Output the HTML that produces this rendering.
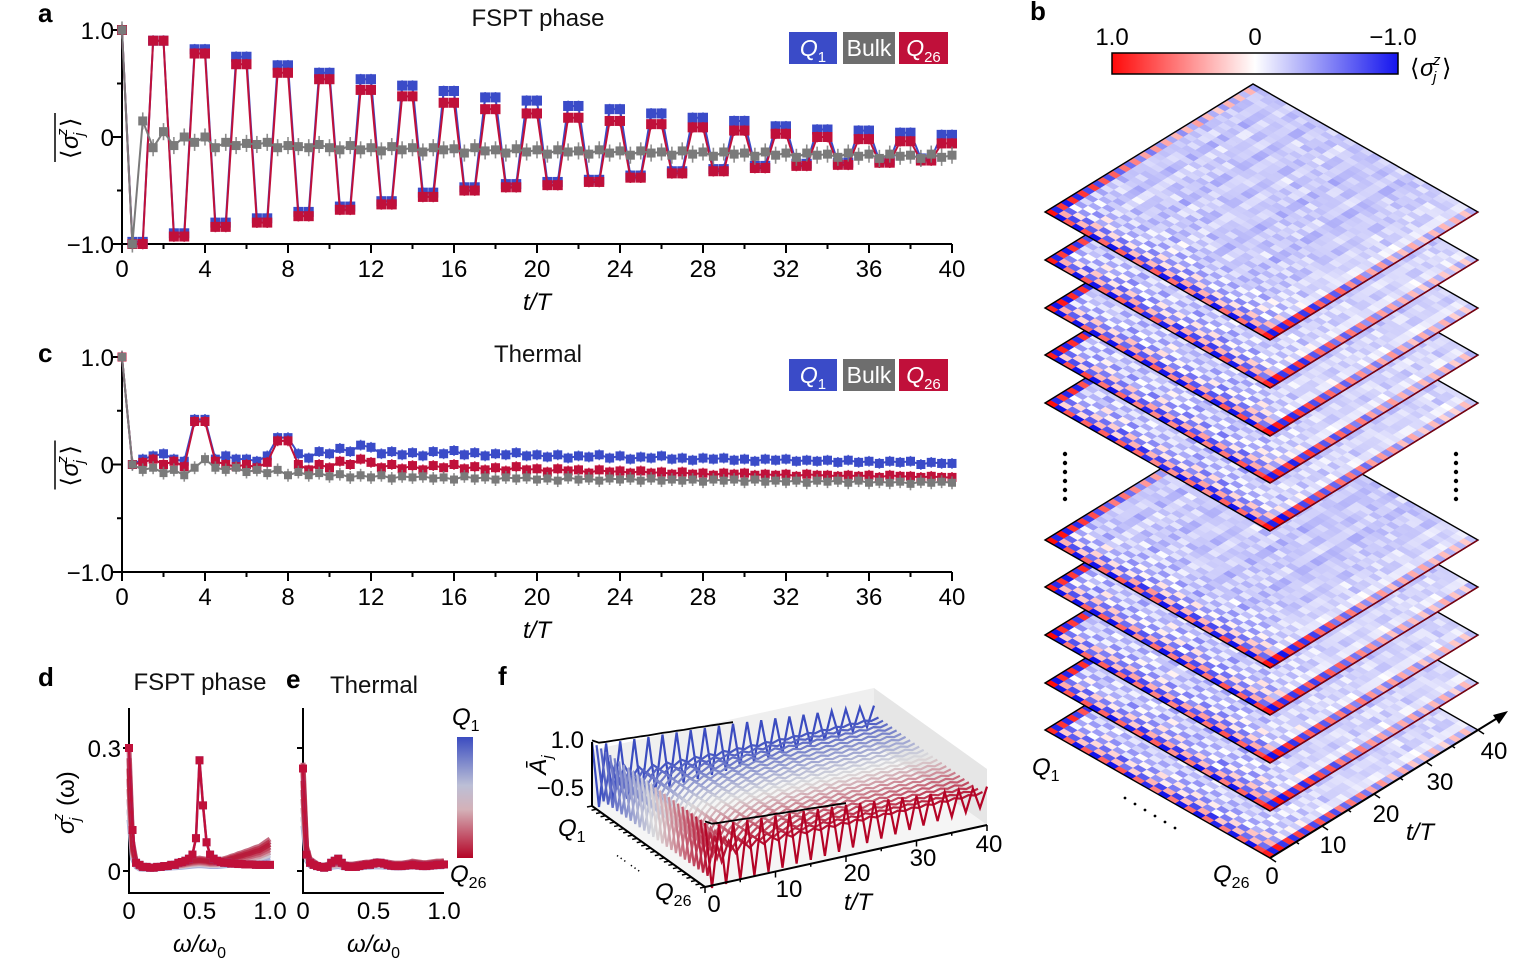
<!DOCTYPE html>
<html><head><meta charset="utf-8"><style>
html,body{margin:0;padding:0;background:#fff;}
svg{display:block;font-family:"Liberation Sans",Arial,sans-serif;}
</style></head><body>
<svg id="fig" width="1536" height="966" viewBox="0 0 1536 966" xmlns="http://www.w3.org/2000/svg">
<rect width="1536" height="966" fill="#fff"/>
<g font-size="26" font-weight="bold" fill="#000">
<text x="38" y="22">a</text>
<text x="1030" y="20">b</text>
<text x="38" y="362">c</text>
<text x="38" y="686">d</text>
<text x="286" y="688">e</text>
<text x="498" y="685">f</text>
</g>
<g font-size="24" fill="#111">
<text x="538" y="26" text-anchor="middle">FSPT phase</text>
<text x="538" y="362" text-anchor="middle">Thermal</text>
<text x="200" y="690" text-anchor="middle">FSPT phase</text>
<text x="374" y="693" text-anchor="middle">Thermal</text>
</g>
<g id="pa"></g><g id="pc"></g><g id="pd"></g><g id="pf"></g><g id="pb"></g>
</svg>
<script>
// ---------- DATA ----------
const aQ1Up   = [0.9,0.82,0.75,0.67,0.6,0.54,0.48,0.43,0.37,0.34,0.29,0.26,0.22,0.18,0.15,0.1,0.07,0.06,0.04,0.02];
const aQ26Up  = [0.9,0.78,0.68,0.6,0.54,0.44,0.38,0.32,0.26,0.22,0.18,0.15,0.12,0.09,0.06,0.03,0.0,-0.02,-0.04,-0.06];
const aQ1Down = [-0.98,-0.9,-0.8,-0.76,-0.7,-0.65,-0.6,-0.52,-0.47,-0.44,-0.42,-0.4,-0.36,-0.32,-0.3,-0.27,-0.25,-0.24,-0.22,-0.2];
const aQ26Down= [-1.0,-0.93,-0.84,-0.8,-0.74,-0.68,-0.63,-0.56,-0.5,-0.47,-0.45,-0.42,-0.38,-0.34,-0.32,-0.29,-0.27,-0.26,-0.24,-0.22];
const aBulk = [1,-1,0.15,-0.1,0.05,-0.08,0.0,-0.05,0.0,-0.1,-0.05,-0.08,-0.06,-0.07,-0.05,-0.1,-0.08,-0.09,-0.1,-0.07,-0.1,-0.12,-0.08,-0.12,-0.1,-0.13,-0.09,-0.12,-0.1,-0.14,-0.1,-0.12,-0.11,-0.15,-0.1,-0.13,-0.12,-0.15,-0.11,-0.14,-0.12,-0.16,-0.12,-0.14,-0.13,-0.16,-0.12,-0.15,-0.13,-0.17,-0.13,-0.15,-0.14,-0.17,-0.13,-0.16,-0.14,-0.18,-0.14,-0.16,-0.15,-0.18,-0.14,-0.17,-0.15,-0.19,-0.15,-0.17,-0.16,-0.19,-0.15,-0.18,-0.16,-0.2,-0.16,-0.18,-0.17,-0.2,-0.16,-0.19,-0.17];
const cQ1 = [1,0.0,0.05,0.08,0.1,0.05,0.03,0.42,0.42,0.05,0.08,0.05,0.05,0.03,0.08,0.25,0.25,0.1,0.06,0.12,0.1,0.15,0.12,0.18,0.16,0.1,0.12,0.09,0.11,0.08,0.12,0.1,0.13,0.09,0.11,0.08,0.1,0.09,0.11,0.08,0.09,0.07,0.09,0.06,0.08,0.07,0.09,0.06,0.08,0.05,0.07,0.06,0.08,0.05,0.06,0.04,0.06,0.05,0.06,0.04,0.05,0.03,0.05,0.04,0.05,0.03,0.04,0.03,0.04,0.02,0.04,0.02,0.03,0.01,0.03,0.02,0.03,0.0,0.02,0.01,0.01];
const cQ26 = [1,0.0,0.02,0.05,0.0,0.03,-0.02,0.4,0.4,0.03,0.0,-0.02,0.0,-0.03,0.02,0.22,0.22,0.0,-0.05,0.0,-0.03,0.03,0.0,0.05,0.02,-0.03,0.0,-0.04,-0.01,-0.05,-0.01,-0.03,0.0,-0.04,-0.02,-0.05,-0.03,-0.06,-0.02,-0.05,-0.04,-0.07,-0.04,-0.06,-0.05,-0.08,-0.05,-0.07,-0.06,-0.08,-0.06,-0.08,-0.07,-0.09,-0.07,-0.09,-0.08,-0.1,-0.08,-0.09,-0.08,-0.1,-0.09,-0.1,-0.09,-0.11,-0.09,-0.1,-0.1,-0.11,-0.1,-0.11,-0.1,-0.12,-0.1,-0.11,-0.11,-0.12,-0.11,-0.12,-0.12];
const cBulk = [1,0.0,-0.05,-0.03,-0.08,-0.05,-0.1,-0.03,0.05,-0.03,-0.05,-0.03,-0.07,-0.05,-0.08,-0.05,-0.1,-0.07,-0.1,-0.08,-0.11,-0.09,-0.12,-0.1,-0.12,-0.1,-0.13,-0.11,-0.12,-0.11,-0.13,-0.12,-0.14,-0.11,-0.13,-0.12,-0.14,-0.12,-0.13,-0.12,-0.14,-0.13,-0.15,-0.12,-0.14,-0.13,-0.15,-0.13,-0.14,-0.13,-0.15,-0.13,-0.15,-0.14,-0.15,-0.14,-0.16,-0.14,-0.15,-0.14,-0.16,-0.14,-0.16,-0.15,-0.16,-0.15,-0.17,-0.15,-0.16,-0.15,-0.17,-0.15,-0.17,-0.16,-0.17,-0.16,-0.18,-0.16,-0.17,-0.16,-0.17];
const xTicks = [0,4,8,12,16,20,24,28,32,36,40];
const yTicks = [1.0,0,-1.0];
const yTickLabels = ["1.0","0","\u22121.0"];
const dEdge = [0.3,0.1,0.02,0.015,0.01,0.01,0.008,0.008,0.01,0.01,0.012,0.012,0.015,0.015,0.02,0.022,0.025,0.03,0.04,0.08,0.27,0.16,0.07,0.04,0.03,0.025,0.022,0.02,0.02,0.018,0.018,0.017,0.017,0.016,0.016,0.016,0.015,0.015,0.015,0.015,0.015];
const dBulk = [0.25,0.06,0.02,0.01,0.008,0.008,0.008,0.01,0.01,0.012,0.012,0.014,0.015,0.016,0.017,0.018,0.02,0.022,0.024,0.025,0.026,0.025,0.024,0.022,0.022,0.022,0.023,0.025,0.027,0.03,0.032,0.035,0.037,0.04,0.042,0.045,0.048,0.05,0.055,0.06,0.065];
const eEdge = [0.25,0.04,0.02,0.015,0.012,0.01,0.008,0.01,0.02,0.025,0.03,0.02,0.012,0.01,0.01,0.01,0.012,0.014,0.016,0.015,0.018,0.02,0.02,0.018,0.015,0.013,0.012,0.012,0.012,0.013,0.014,0.015,0.014,0.013,0.012,0.012,0.013,0.014,0.015,0.015,0.016];
const eBulk = [0.22,0.05,0.025,0.02,0.015,0.012,0.012,0.014,0.018,0.02,0.022,0.018,0.015,0.014,0.014,0.015,0.016,0.017,0.018,0.018,0.02,0.021,0.02,0.019,0.018,0.017,0.016,0.016,0.016,0.017,0.018,0.02,0.019,0.018,0.017,0.017,0.018,0.019,0.02,0.02,0.021];
const siteScale = [1,0.9,0.6,1.1,0.7,0.9,0.5,1.0,0.8,0.6,1.2,0.7,0.9,0.6,1.0,0.8,1.1,0.7,0.9,1.0,0.8,1.2,0.9,1.1,1.0,1];
const fEdge = [1,0.98,0.96,0.95,0.93,0.92,0.9,0.89,0.87,0.86,0.85,0.83,0.82,0.8,0.79,0.78,0.76,0.75,0.73,0.72,0.7,0.68,0.66,0.64,0.62,0.6,0.58,0.56,0.54,0.52,0.5,0.48,0.46,0.44,0.42,0.4,0.38,0.36,0.34,0.32,0.3];
const fBulk = [1,0.7,0.5,0.35,0.25,0.18,0.14,0.12,0.1,0.09,0.08,0.07,0.07,0.06,0.06,0.05,0.05,0.05,0.05,0.04,0.04,0.04,0.04,0.04,0.04,0.04,0.03,0.03,0.03,0.03,0.03,0.03,0.03,0.03,0.03,0.03,0.03,0.03,0.03,0.03,0.03];
const siteMean = [-0.05,-0.25,-0.2,-0.3,-0.15,-0.25,-0.2,-0.3,-0.18,-0.22,-0.28,-0.15,-0.25,-0.2,-0.3,-0.2,-0.25,-0.18,-0.3,-0.22,-0.2,-0.25,-0.15,-0.2,-0.1,-0.05];
const edgeOsc = [0.95,0.93,0.9,0.88,0.85,0.83,0.8,0.78,0.75,0.72,0.7,0.68,0.65,0.62,0.6,0.58,0.55,0.52,0.5,0.48,0.46,0.44,0.42,0.4,0.38,0.37,0.36,0.35,0.34,0.33,0.32,0.31,0.3,0.3,0.29,0.28,0.28,0.27,0.27,0.26];
const bulkOsc = [0.8,0.5,0.35,0.25,0.18,0.14,0.11,0.09,0.08,0.07,0.06,0.05,0.05,0.04,0.04,0.04,0.03,0.03,0.03,0.03,0.03,0.03,0.03,0.03,0.03,0.03,0.02,0.02,0.02,0.02,0.02,0.02,0.02,0.02,0.02,0.02,0.02,0.02,0.02,0.02];
const noise = [0.12,-0.2,0.05,0.25,-0.1,0.0,-0.28,0.18,0.08,-0.15,0.3,-0.05,0.1,-0.22,0.2,-0.08,0.02,-0.3,0.15,0.06,-0.12,0.22,-0.18,0.0,0.28,-0.25,0.1,-0.02,0.18,-0.1,0.04,-0.2,0.26,-0.06,0.12,-0.16,0.08];
const layerY = [212,260,308,355,403,540,587,635,683,730];

// ---------- helpers ----------
const NS='http://www.w3.org/2000/svg';
function mk(tag,attrs,parent){const e=document.createElementNS(NS,tag);for(const k in attrs)e.setAttribute(k,attrs[k]);parent.appendChild(e);return e;}
const BLUE='#3a4bc8', RED='#c0103a', GRAY='#7a7a7a';
function lerp(a,b,f){return a+(b-a)*f;}
function hex(c){return [parseInt(c.slice(1,3),16),parseInt(c.slice(3,5),16),parseInt(c.slice(5,7),16)];}
function siteColor(j){
  const f=j/25; const A=hex('#3b4cc0'),M=hex('#dcdcdc'),B=hex('#b40426');
  let c; if(f<0.5){c=A.map((v,i)=>lerp(v,M[i],f*2));} else {c=M.map((v,i)=>lerp(v,B[i],(f-0.5)*2));}
  return 'rgb('+c.map(Math.round).join(',')+')';
}
function heatColor(v){v=Math.max(-1,Math.min(1,v));
  if(v>=0){const g=Math.round(255*(1-v));return 'rgb(255,'+g+','+g+')';}
  const a=-v;return 'rgb('+Math.round(255-235*a)+','+Math.round(255-235*a)+','+Math.round(255-20*a)+')';}
function sigmaLabel(parent,x,y,rot,name){
  const g=mk('g',{transform:`translate(${x} ${y})`+(rot?' rotate(-90)':'')},parent);
  
  
  const t=mk('text',{x:-22,y:0,'font-size':24},g);t.textContent='⟨';
  const s=mk('text',{x:-12,y:0,'font-size':24,'font-style':'italic'},g);s.textContent='σ';
  const sub=mk('text',{x:1,y:6,'font-size':15,'font-style':'italic'},g);sub.textContent='j';
  const sup=mk('text',{x:1,y:-11,'font-size':15,'font-style':'italic'},g);sup.textContent='z';
  const c=mk('text',{x:10,y:0,'font-size':24},g);c.textContent='⟩';
  return g;
}

// ---------- time-series panels a & c ----------
function timePanel(gid, y0, yScale, series, nameP){
  const g=document.getElementById(gid);
  const x=t=>122+t*20.75, y=v=>y0-v*yScale;
  const ax=mk('path',{d:`M122 ${y(1)}V${y(-1)}H952`,stroke:'#000','stroke-width':2,fill:'none'},g);
  
  
  for(let t=0;t<=40;t+=2){const tk=mk('line',{x1:x(t),x2:x(t),y1:y(-1),y2:y(-1)+(t%4?5:9),stroke:'#000','stroke-width':2},g);
    
    }
  xTicks.forEach(t=>{const tx=mk('text',{x:x(t),y:y(-1)+33,'text-anchor':'middle','font-size':24},g);tx.textContent=String(t);
    
    });
  [1,0.5,0,-0.5,-1].forEach(v=>{const tk=mk('line',{x1:122,x2:122-(v===0.5||v===-0.5?5:9),y1:y(v),y2:y(v),stroke:'#000','stroke-width':2},g);
    
    });
  yTicks.forEach((v,i)=>{const tx=mk('text',{x:114,y:y(v)+9,'text-anchor':'end','font-size':24},g);tx.textContent=yTickLabels[i];
    
    });
  const xl=mk('text',{x:537,y:y(-1)+66,'text-anchor':'middle','font-size':24,'font-style':'italic'},g);xl.textContent='t/T';
  
  
  sigmaLabel(g,78,y0,true,nameP+'-y-axis-title');
  mk('line',{x1:55,x2:55,y1:y0-24,y2:y0+25,stroke:'#000','stroke-width':1.5},g);
  series.forEach(s=>{
    const sg=mk('g',{},g);
    
    
    mk('polyline',{points:s.pts.map(p=>x(p.t)+','+y(p.v)).join(' '),fill:'none',stroke:s.color,'stroke-width':2},sg);
    s.pts.forEach(p=>{
      mk('line',{x1:x(p.t),x2:x(p.t),y1:y(p.v)-s.err*yScale,y2:y(p.v)+s.err*yScale,stroke:s.color,'stroke-width':1.6,opacity:0.85},sg);
      const r=mk('rect',{x:x(p.t)-s.sz/2,y:y(p.v)-s.sz/2,width:s.sz,height:s.sz,fill:s.color},sg);
      
      
    });
  });
  const lg=mk('g',{},g);
  
  
  const ly=y(1)+2;
  [[789,48,BLUE,'Q','1'],[843,52,'#6e6e6e','Bulk',''],[899,49,RED,'Q','26']].forEach(L=>{
    const b=mk('rect',{x:L[0],y:ly,width:L[1],height:32,fill:L[2]},lg);
    
    
    const t=mk('text',{x:L[0]+L[1]/2,y:ly+24,'text-anchor':'middle','font-size':23,fill:'#fff'},lg);
    if(L[4]) t.innerHTML='<tspan font-style="italic">'+L[3]+'</tspan><tspan font-size="15" dy="6">'+L[4]+'</tspan>'; else t.textContent=L[3];
  });
}
function pairPts(up,down,first){const p=[{t:0,v:first}];
  up.forEach((v,k)=>{p.push({t:2*(k+1)-0.5,v});p.push({t:2*(k+1),v});});
  down.forEach((v,k)=>{p.push({t:2*k+0.5,v});p.push({t:2*k+1,v});});
  return p.sort((a,b)=>a.t-b.t);}
const idxPts=arr=>arr.map((v,i)=>({t:i*0.5,v}));
timePanel('pa',137,107,[
  {name:'q1',pts:pairPts(aQ1Up,aQ1Down,1),color:BLUE,err:0.05,sz:10},
  {name:'q26',pts:pairPts(aQ26Up,aQ26Down,1),color:RED,err:0.05,sz:10},
  {name:'bulk',pts:idxPts(aBulk),color:GRAY,err:0.08,sz:9}],'panel-a');
timePanel('pc',464.5,107.5,[
  {name:'q1',pts:idxPts(cQ1),color:BLUE,err:0.05,sz:9},
  {name:'q26',pts:idxPts(cQ26),color:RED,err:0.05,sz:9},
  {name:'bulk',pts:idxPts(cBulk),color:GRAY,err:0.06,sz:8}],'panel-c');

// ---------- spectra d & e ----------
function specPanel(x0,edge,bulk,name,withY){
  const g=document.getElementById('pd');
  const x=w=>x0+w*141, y=v=>871-v/0.3*123;
  const ax=mk('path',{d:`M${x0} 708V893H${x0+141}`,stroke:'#000','stroke-width':2,fill:'none'},g);
  
  
  [0.3,0].forEach(v=>mk('line',{x1:x0,x2:x0-6,y1:y(v),y2:y(v),stroke:'#000','stroke-width':2},g));
  [0,0.5,1].forEach((w,i)=>{const t=mk('text',{x:x(w),y:919,'text-anchor':'middle','font-size':24},g);t.textContent=['0','0.5','1.0'][i];
    
    });
  const xl=mk('text',{x:x(0.5),y:952,'text-anchor':'middle','font-size':24,'font-style':'italic'},g);
  xl.innerHTML='ω/ω<tspan font-size="16" dy="6" font-style="normal">0</tspan>';
  
  
  for(let j=1;j<25;j++){
    const pl=mk('polyline',{points:bulk.map((v,i)=>x(i*0.025)+','+y(v*siteScale[j])).join(' '),fill:'none',stroke:siteColor(j),'stroke-width':5,opacity:0.75},g);
    
    
  }
  [0,25].forEach(j=>{
    const c=j?RED:'#5b7be0';
    mk('polyline',{points:edge.map((v,i)=>x(i*0.025)+','+y(v)).join(' '),fill:'none',stroke:c,'stroke-width':2.5},g);
    edge.forEach((v,i)=>{const r=mk('rect',{x:x(i*0.025)-4,y:y(v)-4,width:8,height:8,fill:c},g);
      
      });
  });
  if(withY){
    [0.3,0].forEach((v,i)=>{const t=mk('text',{x:x0-8,y:y(v)+9,'text-anchor':'end','font-size':24},g);t.textContent=['0.3','0'][i];
      
      });
    const yl=mk('g',{transform:'translate(74 800) rotate(-90)'},g);
    
    
    mk('text',{x:-34,y:0,'font-size':24,'font-style':'italic'},yl).textContent='σ';
    mk('text',{x:-21,y:6,'font-size':15,'font-style':'italic'},yl).textContent='j';
    mk('text',{x:-21,y:-11,'font-size':15,'font-style':'italic'},yl).textContent='z';
    mk('text',{x:-6,y:0,'font-size':24},yl).textContent='(ω)';
  }
}
specPanel(129,dEdge,dBulk,'panel-d',true);
specPanel(303,eEdge,eBulk,'panel-e',false);
(function(){const g=document.getElementById('pd');
  const defs=mk('defs',{},g);const lgd=mk('linearGradient',{id:'sitegrad',x1:0,y1:0,x2:0,y2:1},defs);
  for(let j=0;j<=25;j+=5)mk('stop',{offset:j/25,'stop-color':siteColor(j)},lgd);
  const cb=mk('rect',{x:457,y:737,width:16,height:121,fill:'url(#sitegrad)'},g);
  
  
  const t1=mk('text',{x:452,y:725,'font-size':24,'font-style':'italic'},g);t1.innerHTML='Q<tspan font-size="16" dy="6" font-style="normal">1</tspan>';
  const t2=mk('text',{x:450,y:882,'font-size':24,'font-style':'italic'},g);t2.innerHTML='Q<tspan font-size="16" dy="6" font-style="normal">26</tspan>';
})();

// ---------- panel f ----------
(function(){
  const g=document.getElementById('pf');
  const P=(t,j,v)=>[592+j*4.52+t*7.05, 806+j*3.24-t*1.55-(v+1)*32];
  const poly=pts=>pts.map(p=>p[0].toFixed(1)+','+p[1].toFixed(1)).join(' ');
  const back=mk('polygon',{points:poly([P(0,0,-1),P(40,0,-1),P(40,0,0.75),P(0,0,0.75)]),fill:'#efefef'},g);
  
  
  const side=mk('polygon',{points:poly([P(40,0,-1),P(40,25,-1),P(40,25,0.75),P(40,0,0.75)]),fill:'#e6e6e6'},g);
  
  
  mk('polygon',{points:poly([P(0,0,-1),P(40,0,-1),P(40,25,-1),P(0,25,-1)]),fill:'#f5f5f5'},g);
  for(let j=0;j<26;j++){
    const amp=(j===0||j===25)?fEdge:fBulk;
    const pts=amp.map((a,t)=>P(t,j,(t%2?-1:1)*a-(t>0?0.1:0)));
    const pl=mk('polyline',{points:poly(pts),fill:'none',stroke:siteColor(j),'stroke-width':2.2},g);
    
    
  }
  [0,25].forEach(j=>{
    const pts=[];for(let t=0;t<=20;t++)pts.push(P(t,j,fEdge[t]-0.1*(t>0)+0.05));
    mk('polyline',{points:poly(pts),fill:'none',stroke:'#000','stroke-width':1.8},g);
  });
  mk('polyline',{points:poly([P(0,0,1),P(0,0,-1),P(0,25,-1),P(40,25,-1)]),fill:'none',stroke:'#000','stroke-width':2},g);
  for(let j=0;j<=25;j++){const a=P(0,j,-1);mk('line',{x1:a[0],y1:a[1],x2:a[0]-5,y2:a[1]+1,stroke:'#000','stroke-width':1.5},g);}
  for(let t=0;t<=40;t+=5){const a=P(t,25,-1);mk('line',{x1:a[0],y1:a[1],x2:a[0],y2:a[1]+(t%10?3:6),stroke:'#000','stroke-width':1.5},g);}
  [[0,714,912],[10,789,897],[20,857,881],[30,923,866],[40,989,852]].forEach(L=>{
    const t=mk('text',{x:L[1],y:L[2],'text-anchor':'middle','font-size':24},g);t.textContent=String(L[0]);
    
    });
  const tl=mk('text',{x:858,y:910,'text-anchor':'middle','font-size':24,'font-style':'italic'},g);tl.textContent='t/T';
  [[1,'1.0',748],[2,'\u22120.5',796]].forEach(L=>{const t=mk('text',{x:584,y:L[2],'text-anchor':'end','font-size':24},g);t.textContent=L[1];});
  const al=mk('text',{transform:'translate(546 765) rotate(-90)','text-anchor':'middle','font-size':24,'font-style':'italic'},g);
  al.innerHTML='Ā<tspan font-size="15" dy="6">j</tspan>';
  
  
  const q1=mk('text',{x:558,y:836,'font-size':24,'font-style':'italic'},g);q1.innerHTML='Q<tspan font-size="16" dy="6" font-style="normal">1</tspan>';
  const q2=mk('text',{x:655,y:900,'font-size':24,'font-style':'italic'},g);q2.innerHTML='Q<tspan font-size="16" dy="6" font-style="normal">26</tspan>';
  mk('text',{x:615,y:855,'font-size':14,transform:'rotate(35 615 855)','letter-spacing':3},g).textContent='……';
})();

// ---------- panel b ----------
(function(){
  const g=document.getElementById('pb');
  const ux=225/26, uy=128/26, wx=208/40, wy=-128/40;
  for(let k=layerY.length-1;k>=0;k--){
    const L=[1045,layerY[k]];
    const lg=mk('g',{},g);
    
    
    const C=(j,t)=>[L[0]+j*ux+t*wx, L[1]+j*uy+t*wy];
    for(let j=0;j<26;j++)for(let t=0;t<40;t++){
      const edge=(j===0||j===25);
      const sgn=(t%2?-1:1)*(edge?1:(j%2?-1:1));
      const v=siteMean[j]+sgn*(edge?edgeOsc[t]:bulkOsc[t])+noise[(j*7+t*3+k*11)%37]*0.28;
      const a=C(j,t),b=C(j+1,t),c=C(j+1,t+1),d=C(j,t+1);
      mk('polygon',{points:[a,b,c,d].map(p=>p[0].toFixed(1)+','+p[1].toFixed(1)).join(' '),fill:heatColor(v),stroke:heatColor(v),'stroke-width':0.4},lg);
    }
    mk('polygon',{points:[C(0,0),C(26,0),C(26,40),C(0,40)].map(p=>p.join(',')).join(' '),fill:'none',stroke:'#000','stroke-width':1.4},lg);
    mk('line',{x1:C(26,0)[0],y1:C(26,0)[1],x2:C(26,40)[0],y2:C(26,40)[1],stroke:'#7a0010','stroke-width':1.5},lg);
  }
  const defs=mk('defs',{},g);const lgd=mk('linearGradient',{id:'hgrad',x1:0,y1:0,x2:1,y2:0},defs);
  [[0,'#ff0a0a'],[0.5,'#ffffff'],[1,'#1414ee']].forEach(s=>mk('stop',{offset:s[0],'stop-color':s[1]},lgd));
  const cb=mk('rect',{x:1112,y:53,width:286,height:21,fill:'url(#hgrad)',stroke:'#000','stroke-width':1.5},g);
  
  
  [[1112,'1.0'],[1255,'0'],[1393,'\u22121.0']].forEach(L=>{const t=mk('text',{x:L[0],y:45,'text-anchor':'middle','font-size':24},g);t.textContent=L[1];
    
    });
  sigmaLabel(g,1432,76,false,'colorbar-title');
  for(let i=0;i<6;i++){mk('circle',{cx:1065,cy:454+i*9,r:2.2,fill:'#000'},g);mk('circle',{cx:1456,cy:454+i*9,r:2.2,fill:'#000'},g);}
  for(let i=0;i<6;i++)mk('circle',{cx:1125+i*10,cy:798+i*6,r:1.4,fill:'#000'},g);
  const L=[1045,730];const C=(j,t)=>[L[0]+j*ux+t*wx, L[1]+j*uy+t*wy];
  const s=C(26,0), e=C(26,45);
  mk('line',{x1:s[0],y1:s[1],x2:e[0],y2:e[1],stroke:'#000','stroke-width':2},g);
  mk('polygon',{points:`${e[0]+4},${e[1]-3} ${e[0]-11},${e[1]+1} ${e[0]-5},${e[1]+10}`,fill:'#000'},g);
  for(let t=0;t<=40;t+=5){const p=C(26,t);mk('line',{x1:p[0],y1:p[1],x2:p[0]+(t%10?3:6),y2:p[1]+(t%10?2:4),stroke:'#000','stroke-width':1.5},g);}
  [[0,1272,884],[10,1333,853],[20,1386,822],[30,1440,790],[40,1494,759]].forEach(L2=>{const t=mk('text',{x:L2[1],y:L2[2],'text-anchor':'middle','font-size':24},g);t.textContent=String(L2[0]);
    
    });
  mk('text',{x:1420,y:840,'text-anchor':'middle','font-size':24,'font-style':'italic'},g).textContent='t/T';
  const q1=mk('text',{x:1032,y:775,'font-size':24,'font-style':'italic'},g);q1.innerHTML='Q<tspan font-size="16" dy="6" font-style="normal">1</tspan>';
  const q2=mk('text',{x:1213,y:882,'font-size':24,'font-style':'italic'},g);q2.innerHTML='Q<tspan font-size="16" dy="6" font-style="normal">26</tspan>';
})();
</script>
</body></html>
